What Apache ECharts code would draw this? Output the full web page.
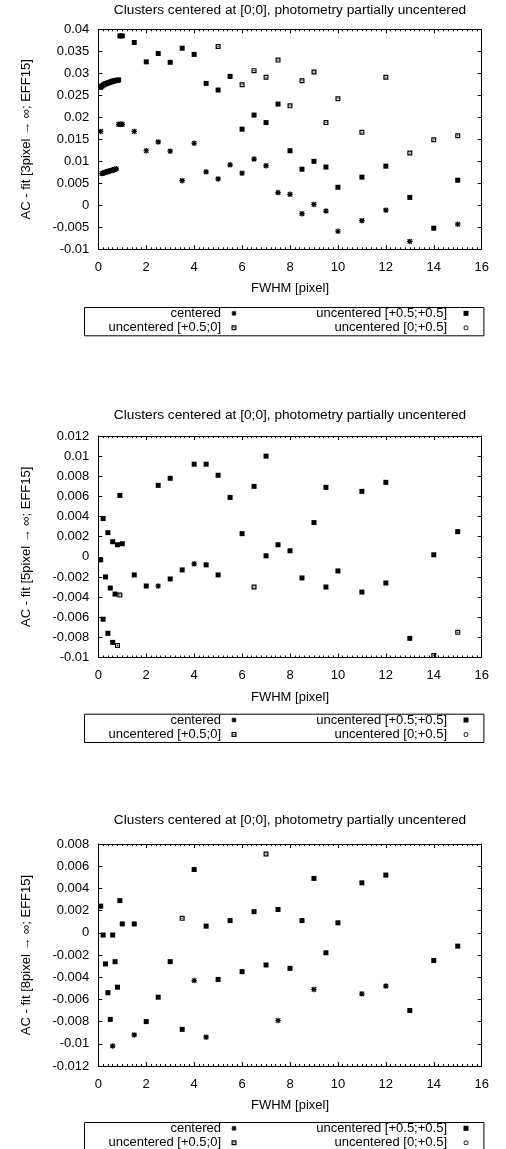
<!DOCTYPE html>
<html>
<head>
<meta charset="utf-8">
<script src="https://cdn.jsdelivr.net/npm/echarts@6/dist/echarts.min.js"></script>
<style>
html,body{margin:0;padding:0;background:#fff;}
#c{width:506px;height:1149px;}
</style>
</head>
<body>
<div id="c"></div>
<script>
// ---------- data ----------
const seriesNames = ['centered', 'uncentered [+0.5;+0.5]', 'uncentered [+0.5;0]', 'uncentered [0;+0.5]'];
const titleText = 'Clusters centered at [0;0], photometry partially uncentered';
const xName = 'FWHM [pixel]';
const yNames = ['AC - fit [3pixel \u2192 \u221e; EFF15]', 'AC - fit [5pixel \u2192 \u221e; EFF15]', 'AC - fit [8pixel \u2192 \u221e; EFF15]'];
const xRange = [0, 16, 2];
const yRanges = [[-0.01, 0.04, 0.005], [-0.01, 0.012, 0.002], [-0.012, 0.008, 0.002]];

// panel 1 (3 pixel)
const p1Centered = [[0.1,0.0168],[0.15,0.0072],[0.2,0.0073],[0.25,0.0074],[0.3,0.0075],[0.35,0.0076],[0.4,0.0077],[0.45,0.0078],[0.5,0.0078],[0.55,0.0079],[0.6,0.0080],[0.65,0.0081],[0.7,0.0082],[0.75,0.0083],[0.85,0.0184],[0.9,0.0184],[0.95,0.0184],[1.0,0.0184],[1.5,0.0168],[2,0.0124],[2.5,0.0144],[3,0.0123],[3.5,0.0056],[4,0.0141],[4.5,0.0076],[5,0.0060],[5.5,0.0092],[6,0.0073],[6.5,0.0105],[7,0.0090],[7.5,0.0029],[8,0.0025],[8.5,-0.0019],[9,0.0002],[9.5,-0.0013],[10,-0.0059],[11,-0.0035],[12,-0.0011],[13,-0.0082],[15,-0.0043]];
const p1Shift11 = [[0.1,0.0268],[0.15,0.0271],[0.2,0.0273],[0.25,0.0275],[0.3,0.0276],[0.35,0.0277],[0.4,0.0278],[0.45,0.0279],[0.5,0.0280],[0.55,0.0281],[0.6,0.0282],[0.65,0.0283],[0.7,0.0283],[0.75,0.0284],[0.8,0.0284],[0.85,0.0285],[0.9,0.0385],[1.0,0.0385],[1.5,0.0370],[2,0.0326],[2.5,0.0345],[3,0.0325],[3.5,0.0357],[4,0.0343],[4.5,0.0277],[5,0.0262],[5.5,0.0293],[6,0.0173],[6.5,0.0205],[7,0.0188],[7.5,0.0230],[8,0.0124],[8.5,0.0082],[9,0.0100],[9.5,0.0087],[10,0.0041],[11,0.0064],[12,0.0089],[13,0.0018],[14,-0.0052],[15,0.0057]];
const p1Shift10 = [[5,0.0361],[6,0.0274],[6.5,0.0306],[7,0.0291],[7.5,0.0330],[8,0.0226],[8.5,0.0283],[9,0.0303],[9.5,0.0188],[10,0.0242],[11,0.0166],[12,0.0291],[13,0.0119],[14,0.0149],[15,0.0158]];
const p1Shift01 = [];

// panel 2 (5 pixel)
const p2Centered = [[2.5,-0.0029],[4,-0.0007]];
const p2Shift11 = [[0.1,-0.0003],[0.2,0.0038],[0.2,-0.0062],[0.3,-0.0020],[0.4,0.0024],[0.4,-0.0076],[0.5,-0.0031],[0.6,0.0015],[0.6,-0.0085],[0.7,-0.0037],[0.8,0.0012],[0.9,0.0061],[1.0,0.0013],[1.5,-0.0018],[2,-0.0029],[2.5,0.0071],[3,0.0078],[3,-0.0022],[3.5,-0.0013],[4,0.0092],[4.5,0.0092],[4.5,-0.0008],[5,0.0081],[5,-0.0018],[5.5,0.0059],[6,0.0023],[6.5,0.0070],[7,0.0100],[7,0.0001],[7.5,0.0012],[8,0.0006],[8.5,-0.0021],[9,0.0034],[9.5,0.0069],[9.5,-0.0030],[10,-0.0014],[11,0.0065],[11,-0.0035],[12,0.0074],[12,-0.0026],[13,-0.0081],[14,0.0002],[15,0.0025]];
const p2Shift10 = [[0.8,-0.0088],[0.9,-0.0038],[6.5,-0.0030],[14,-0.0098],[15,-0.0075]];
const p2Shift01 = [];

// panel 3 (8 pixel)
const p3Centered = [[0.6,-0.0102],[1.5,-0.0092],[4,-0.0043],[4.5,-0.0094],[7.5,-0.0079],[9,-0.0051],[11,-0.0055],[12,-0.0048]];
const p3Shift11 = [[0.1,0.0024],[0.2,-0.0002],[0.3,-0.0028],[0.4,-0.0054],[0.5,-0.0078],[0.6,-0.0002],[0.7,-0.0026],[0.8,-0.0049],[0.9,0.0029],[1.0,0.0008],[1.5,0.0008],[2,-0.0080],[2.5,-0.0058],[3,-0.0026],[3.5,-0.0087],[4,0.0057],[4.5,0.0006],[5,-0.0042],[5.5,0.0011],[6,-0.0035],[6.5,0.0019],[7,-0.0029],[7.5,0.0021],[8,-0.0032],[8.5,0.0011],[9,0.0049],[9.5,-0.0018],[10,0.0009],[11,0.0045],[12,0.0052],[13,-0.0070],[14,-0.0025],[15,-0.0012]];
const p3Shift10 = [[3.5,0.0013],[7,0.0071]];
const p3Shift01 = [];

const panelData = [
  [p1Centered, p1Shift11, p1Shift10, p1Shift01],
  [p2Centered, p2Shift11, p2Shift10, p2Shift01],
  [p3Centered, p3Shift11, p3Shift10, p3Shift01]
];

// ---------- styles / layout ----------
const FONT = 'Liberation Sans, Arial, Helvetica, sans-serif';
const symbols = [
  'path://M3.9,0H6.1V10H3.9Z M0,3.9H10V6.1H0Z M0.3,1.8L1.8,0.3L9.7,8.2L8.2,9.7Z M8.2,0.3L9.7,1.8L1.8,9.7L0.3,8.2Z',
  'path://M0,0H10V10H0Z',
  'path://M0,0H10V10H0Z M2.4,2.4V7.6H7.6V2.4Z M3.9,3.9H6.1V6.1H3.9Z',
  'path://M0,5A5,5 0 1,1 10,5A5,5 0 1,1 0,5Z M2,5A3,3 0 1,0 8,5A3,3 0 1,0 2,5Z'
];
const symbolSizes = [5.5, 5, 5, 4];
const gridTops = [29.3, 436, 844];
const gridHeights = [220, 221.5, 222];
const titleTops = [3.5, 408.5, 813.5];
const legendTops = [305, 711.7, 1120];
const PLOT_L = 98.3, PLOT_W = 383.4;

const grids = [], xAxes = [], yAxes = [], series = [], titles = [], legends = [], graphics = [];
const fmt = v => String(parseFloat(v.toFixed(4)));

for (let p = 0; p < 3; p++) {
  grids.push({ left: PLOT_L, top: gridTops[p], width: PLOT_W, height: gridHeights[p], containLabel: false });
  const axisLine = { show: true, onZero: false, lineStyle: { color: '#000', width: 1 } };
  const [ymin, ymax, yint] = yRanges[p];
  // bottom x
  xAxes.push({
    type: 'value', gridIndex: p, position: 'bottom', min: xRange[0], max: xRange[1], interval: xRange[2],
    name: xName, nameLocation: 'middle', nameGap: 33,
    nameTextStyle: { color: '#000', fontSize: 13, fontFamily: FONT },
    axisLine, splitLine: { show: false },
    axisTick: { show: true, inside: true, length: 4, lineStyle: { color: '#000' } },
    minorTick: { show: true, splitNumber: 10, length: 2, lineStyle: { color: '#000' } },
    axisLabel: { show: true, margin: 11.5, color: '#000', fontSize: 13, fontFamily: FONT, formatter: fmt }
  });
  // top mirror x
  xAxes.push({
    type: 'value', gridIndex: p, position: 'top', min: xRange[0], max: xRange[1], interval: xRange[2],
    axisLine, splitLine: { show: false },
    axisTick: { show: true, inside: true, length: 4, lineStyle: { color: '#000' } },
    minorTick: { show: true, splitNumber: 10, length: 2, lineStyle: { color: '#000' } },
    axisLabel: { show: false }
  });
  // left y
  yAxes.push({
    type: 'value', gridIndex: p, position: 'left', min: ymin, max: ymax, interval: yint,
    name: yNames[p], nameLocation: 'middle', nameGap: 65, nameRotate: 90,
    nameTextStyle: { color: '#000', fontSize: 13, fontFamily: FONT },
    axisLine, splitLine: { show: false },
    axisTick: { show: true, inside: true, length: 4, lineStyle: { color: '#000' } },
    axisLabel: { show: true, margin: 9, color: '#000', fontSize: 13, fontFamily: FONT, formatter: fmt }
  });
  // right mirror y
  yAxes.push({
    type: 'value', gridIndex: p, position: 'right', min: ymin, max: ymax, interval: yint,
    axisLine, splitLine: { show: false },
    axisTick: { show: true, inside: true, length: 4, lineStyle: { color: '#000' } },
    axisLabel: { show: false }
  });

  for (let s = 0; s < 4; s++) {
    series.push({
      type: 'scatter', name: seriesNames[s], xAxisIndex: 2 * p, yAxisIndex: 2 * p,
      data: panelData[p][s], symbol: symbols[s], symbolSize: symbolSizes[s], symbolKeepAspect: true,
      itemStyle: { color: s === 3 ? '#333' : '#000', opacity: 1 },
      emphasis: { disabled: true }, silent: true, z: 2 + s
    });
  }

  titles.push({
    text: titleText, left: PLOT_L + PLOT_W / 2, textAlign: 'center', top: titleTops[p], padding: 0,
    textStyle: { color: '#000', fontSize: 13.7, fontWeight: 'normal', fontFamily: FONT }
  });

  const T = legendTops[p];
  const legendBase = {
    orient: 'horizontal', align: 'right', padding: 0, itemHeight: 5, selectedMode: false,
    symbolKeepAspect: true,
    textStyle: { color: '#000', fontSize: 13, fontFamily: FONT, lineHeight: 14 }
  };
  const rows = [T + 7.3 - 7 + 1, T + 21.7 - 7 + 1];
  legends.push(Object.assign({}, legendBase, { data: [{ name: seriesNames[0], icon: symbols[0] }], itemWidth: 16, right: 506 - 236.5, top: rows[0] }));
  legends.push(Object.assign({}, legendBase, { data: [{ name: seriesNames[2], icon: symbols[2] }], itemWidth: 16, right: 506 - 236.5, top: rows[1] }));
  legends.push(Object.assign({}, legendBase, { data: [{ name: seriesNames[1], icon: symbols[1] }], itemWidth: 28, right: 506 - 468.5, top: rows[0] }));
  legends.push(Object.assign({}, legendBase, { data: [{ name: seriesNames[3], icon: symbols[3] }], itemWidth: 28, right: 506 - 468.5, top: rows[1] }));

  graphics.push({
    type: 'rect', left: 82, top: T, silent: true,
    shape: { x: 0, y: 0, width: 399.4, height: 28.3 },
    style: { fill: 'none', stroke: '#000', lineWidth: 1 }
  });
}

const chart = echarts.init(document.getElementById('c'), null, { renderer: 'canvas' });
chart.setOption({
  animation: false,
  backgroundColor: '#fff',
  title: titles,
  legend: legends,
  grid: grids,
  xAxis: xAxes,
  yAxis: yAxes,
  series: series,
  graphic: graphics
});
</script>
</body>
</html>
